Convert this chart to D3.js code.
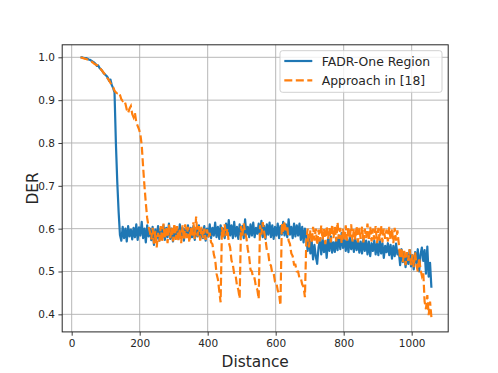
<!DOCTYPE html>
<html>
<head>
<meta charset="utf-8">
<script src="https://cdn.jsdelivr.net/npm/d3@7"></script>
<style>
  html, body { margin: 0; padding: 0; background: #fff; }
  svg { display: block; }
  text { font-family: "DejaVu Sans", sans-serif; fill: #262626; }
</style>
</head>
<body>
<svg id="chart" width="498" height="373"></svg>
<script>
// ---- data (sampled every 4 distance units, starting at 26) ----
const distStart = 26;
const distStep = 4;

const seriesNames = ["FADR-One Region", "Approach in [18]"];
const xTicks = [0, 200, 400, 600, 800, 1000];
const yTicks = [0.4, 0.5, 0.6, 0.7, 0.8, 0.9, 1.0];

const blueHead = [1.000, 1.000, 0.999, 0.998, 0.998, 0.997, 0.995, 0.994, 0.992, 0.990,
  0.988, 0.985, 0.980, 0.981, 0.975, 0.972, 0.968, 0.963, 0.960, 0.957,
  0.953, 0.945, 0.948, 0.935, 0.928, 0.918, 0.800, 0.710, 0.640, 0.585];
const bluePlateau = [
  0.572, 0.604, 0.578, 0.600, 0.570, 0.606, 0.582, 0.598, 0.575, 0.602,
  0.580, 0.610, 0.574, 0.603, 0.584, 0.616, 0.578, 0.600, 0.568, 0.608,
  0.582, 0.600, 0.573, 0.604, 0.562, 0.598, 0.576, 0.606, 0.572, 0.600,
  0.578, 0.608, 0.574, 0.602, 0.580, 0.612, 0.576, 0.600, 0.570, 0.604,
  0.582, 0.598, 0.576, 0.610, 0.580, 0.602, 0.572, 0.600, 0.584, 0.608,
  0.576, 0.602, 0.580, 0.606, 0.574, 0.600, 0.582, 0.608, 0.576, 0.598,
  0.578, 0.606, 0.572, 0.600, 0.582, 0.610, 0.578, 0.602, 0.584, 0.614,
  0.580, 0.604, 0.576, 0.608, 0.584, 0.600, 0.578, 0.612, 0.586, 0.620,
  0.584, 0.608, 0.578, 0.616, 0.582, 0.604, 0.576, 0.610, 0.584, 0.606,
  0.578, 0.622, 0.586, 0.604, 0.580, 0.610, 0.584, 0.614, 0.580, 0.602,
  0.588, 0.612, 0.582, 0.618, 0.580, 0.606, 0.576, 0.610, 0.586, 0.614,
  0.580, 0.608, 0.576, 0.604, 0.584, 0.612, 0.578, 0.606, 0.586, 0.616,
  0.584, 0.610, 0.580, 0.622, 0.586, 0.604, 0.578, 0.612, 0.582, 0.608,
  0.584, 0.612, 0.574, 0.604, 0.568, 0.600];
const blueMid = [
  0.580, 0.548, 0.585, 0.542, 0.570, 0.528, 0.562, 0.535, 0.518, 0.556,
  0.574, 0.540, 0.578, 0.545, 0.570, 0.532, 0.576, 0.548, 0.582, 0.544,
  0.568, 0.546, 0.578, 0.550, 0.584, 0.552, 0.590, 0.555, 0.578, 0.548,
  0.575, 0.545, 0.580, 0.552, 0.574, 0.546, 0.578, 0.550, 0.572, 0.544,
  0.570, 0.542, 0.576, 0.548, 0.572, 0.540, 0.570, 0.536, 0.566, 0.548,
  0.572, 0.540, 0.566, 0.538, 0.574, 0.542, 0.566, 0.532, 0.560, 0.545,
  0.566, 0.538, 0.562, 0.530, 0.560, 0.536, 0.565, 0.540];
const blueTail = [
  0.548, 0.515, 0.552, 0.522, 0.545, 0.510, 0.540, 0.518, 0.550, 0.512,
  0.538, 0.505, 0.545, 0.520, 0.552, 0.500, 0.540, 0.556, 0.525,
  0.550, 0.495, 0.558, 0.488, 0.520, 0.462];

const orangeHead = [1.000, 0.999, 0.998, 0.997, 0.996, 0.995, 0.993, 0.991, 0.990, 0.988,
  0.985, 0.983, 0.982, 0.978, 0.976, 0.972, 0.968, 0.964, 0.960, 0.955,
  0.950, 0.946, 0.940, 0.935,
  0.930, 0.922, 0.918, 0.916, 0.918, 0.912, 0.902, 0.898, 0.900, 0.892,
  0.878, 0.870, 0.880, 0.886, 0.868, 0.860, 0.870, 0.848, 0.840, 0.832,
  0.820, 0.795, 0.745, 0.700, 0.660, 0.625, 0.605, 0.592];
const orangeBase = [
  0.575, 0.602, 0.565, 0.595, 0.556, 0.590, 0.570, 0.606, 0.568, 0.612,
  0.576, 0.604, 0.566, 0.610, 0.578, 0.602, 0.570, 0.612, 0.574, 0.606,
  0.572, 0.600, 0.566, 0.608, 0.574, 0.610, 0.578, 0.604, 0.568, 0.602,
  0.580, 0.615, 0.576, 0.628, 0.582, 0.606, 0.572, 0.604, 0.578, 0.600,
  0.574, 0.598, 0.580];
const orangeDips = [
  0.590, 0.568, 0.564, 0.540, 0.528, 0.495, 0.482, 0.455, 0.428,
  0.604, 0.580, 0.610, 0.584, 0.600,
  0.568, 0.556, 0.526, 0.516, 0.494, 0.492, 0.468, 0.458, 0.437,
  0.606, 0.584, 0.612, 0.590,
  0.578, 0.552, 0.534, 0.504, 0.500, 0.484, 0.484, 0.464, 0.458, 0.436,
  0.608, 0.586, 0.615, 0.592,
  0.575, 0.550, 0.544, 0.518, 0.514, 0.496, 0.496, 0.476, 0.474, 0.456, 0.448, 0.421,
  0.612, 0.590, 0.616, 0.596, 0.606,
  0.572, 0.564, 0.542, 0.536, 0.516, 0.516, 0.500, 0.500, 0.484, 0.484, 0.470, 0.464, 0.440];
const orangeMid = [
  0.570, 0.600, 0.556, 0.596, 0.566, 0.604, 0.572, 0.600, 0.562, 0.598,
  0.570, 0.608, 0.574, 0.600, 0.564, 0.606, 0.576, 0.602, 0.568, 0.610,
  0.578, 0.604, 0.570, 0.615, 0.576, 0.602, 0.566, 0.600, 0.574, 0.608,
  0.572, 0.604, 0.576, 0.610, 0.570, 0.600, 0.574, 0.606, 0.568, 0.602,
  0.576, 0.605, 0.568, 0.600, 0.578, 0.612, 0.572, 0.604, 0.570, 0.600,
  0.574, 0.606, 0.566, 0.602, 0.572, 0.608, 0.568, 0.600, 0.576, 0.598,
  0.570, 0.604, 0.574, 0.600, 0.566, 0.602, 0.572, 0.596];
const orangeTail = [
  0.565, 0.530, 0.556, 0.522, 0.548, 0.515, 0.545, 0.525, 0.552, 0.515,
  0.540, 0.510, 0.545, 0.515, 0.500, 0.532, 0.505, 0.490,
  0.500, 0.430, 0.412, 0.445, 0.398, 0.430, 0.393];

const blueValues = [].concat(blueHead, bluePlateau, blueMid, blueTail);
const orangeValues = [].concat(orangeHead, orangeBase, orangeDips, orangeMid, orangeTail);

// ---- layout ----
const svg = d3.select("#chart");
const L = 62.2, R = 448.2, T = 44.8, B = 331.9;

const x = d3.scaleLinear().domain([-27.9, 1107.4]).range([L, R]);
const y = d3.scaleLinear().domain([0.359, 1.0292]).range([B, T]);

// grid
const grid = svg.append("g");
grid.selectAll("line.gx").data(xTicks).enter().append("line")
  .attr("x1", d => x(d)).attr("x2", d => x(d)).attr("y1", T).attr("y2", B)
  .attr("stroke", "#b0b0b0").attr("stroke-width", 0.9);
grid.selectAll("line.gy").data(yTicks).enter().append("line")
  .attr("y1", d => y(d)).attr("y2", d => y(d)).attr("x1", L).attr("x2", R)
  .attr("stroke", "#b0b0b0").attr("stroke-width", 0.9);

// lines
const toPts = vals => vals.map((v, i) => [distStart + i * distStep, v]);
const line = d3.line().x(d => x(d[0])).y(d => y(d[1]));

svg.append("path").datum(toPts(blueValues))
  .attr("d", line).attr("fill", "none")
  .attr("stroke", "#1f77b4").attr("stroke-width", 2.2)
  .attr("stroke-linejoin", "round");
svg.append("path").datum(toPts(orangeValues))
  .attr("d", line).attr("fill", "none")
  .attr("stroke", "#ff7f0e").attr("stroke-width", 2.2)
  .attr("stroke-dasharray", "8,3.5");

// axes
const xAxis = d3.axisBottom(x).tickValues(xTicks).tickSize(3.8).tickPadding(3.5).tickFormat(d3.format("d"));
const yAxis = d3.axisLeft(y).tickValues(yTicks).tickSize(3.8).tickPadding(3.5).tickFormat(d3.format(".1f"));
const gx = svg.append("g").attr("transform", `translate(0,${B})`).call(xAxis);
const gy = svg.append("g").attr("transform", `translate(${L},0)`).call(yAxis);
[gx, gy].forEach(g => {
  g.select(".domain").remove();
  g.selectAll(".tick line").attr("stroke", "#262626").attr("stroke-width", 0.9);
  g.selectAll(".tick text").style("font-family", "DejaVu Sans").style("font-size", "10.5px").attr("fill", "#262626");
});

// frame
svg.append("rect").attr("x", L).attr("y", T).attr("width", R - L).attr("height", B - T)
  .attr("fill", "none").attr("stroke", "#262626").attr("stroke-width", 1);

// axis labels
svg.append("text").attr("x", (L + R) / 2).attr("y", 366.5).attr("text-anchor", "middle")
  .style("font-size", "15.4px").text("Distance");
svg.append("text").attr("transform", `translate(38.3,${(T + B) / 2}) rotate(-90)`)
  .attr("text-anchor", "middle").style("font-size", "15.4px").text("DER");

// legend
const lg = svg.append("g");
lg.append("rect").attr("x", 280).attr("y", 50.7).attr("width", 162).attr("height", 41.6)
  .attr("rx", 2.5).attr("fill", "#fff").attr("fill-opacity", 0.8)
  .attr("stroke", "#cccccc").attr("stroke-width", 0.9);
const legendItems = [
  { name: seriesNames[0], color: "#1f77b4", dash: null, yy: 61 },
  { name: seriesNames[1], color: "#ff7f0e", dash: "8,3.5", yy: 80.3 }
];
legendItems.forEach(it => {
  lg.append("line").attr("x1", 284.3).attr("x2", 312.3).attr("y1", it.yy).attr("y2", it.yy)
    .attr("stroke", it.color).attr("stroke-width", 2.2)
    .attr("stroke-dasharray", it.dash);
  lg.append("text").attr("x", 321.7).attr("y", it.yy + 4.6)
    .style("font-size", "12.4px").text(it.name);
});
</script>
</body>
</html>
